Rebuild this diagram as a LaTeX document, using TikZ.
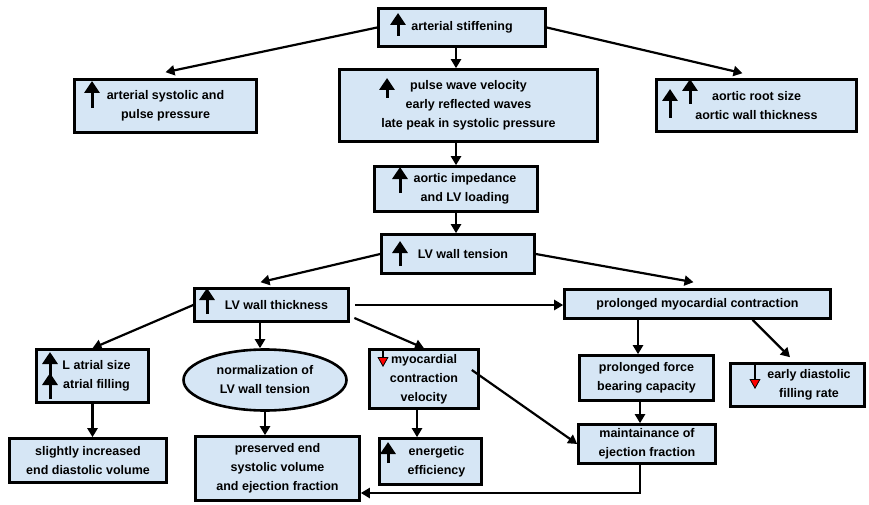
\documentclass[tikz,border=0pt]{standalone}
\usepackage{fontspec}
\setmainfont{Liberation Sans}
\usepackage{xcolor}
\usepackage{tikz}
\usetikzlibrary{arrows.meta,shapes.geometric}
\definecolor{boxblue}{RGB}{214,230,245}

\begin{document}
\begin{tikzpicture}[x=1pt, y=-1pt,
    every node/.style={font=\bfseries\fontsize{12.5}{19}\selectfont, align=center, inner sep=0pt},
    box/.style={draw, line width=2.6pt, fill=boxblue},
    arr/.style={line width=2.2pt, -{Triangle[length=9pt,width=10pt]}},
    upar/.style={line width=3pt, -{Triangle[length=12pt,width=15pt]}},
    dnar/.style={line width=1.8pt, -{Triangle[length=10pt,width=11pt,fill=red,line width=0.8pt]}}]
    \useasboundingbox (0,0) rectangle (869,505);
    % Boxes, top row
    \node[box, minimum width=167pt, minimum height=38pt] (stiff) at (462,27.5) {arterial stiffening};
    \node[box, minimum width=182pt, minimum height=53pt] (syst) at (165.5,106) {arterial systolic and\\pulse pressure};
    \node[box, minimum width=258pt, minimum height=72pt] (pwv) at (468.5,105.5) {pulse wave velocity\\early reflected waves\\late peak in systolic pressure};
    \node[box, minimum width=200pt, minimum height=52pt] (root) at (756.5,105.5) {aortic root size\\aortic wall thickness};
    % Boxes, middle column
    \node[box, minimum width=163pt, minimum height=45pt] (imp) at (456,189) {\hspace*{18pt}aortic impedance\\\hspace*{18pt}and LV loading};
    \node[box, minimum width=153pt, minimum height=39pt] (tens) at (458,254) {\hspace*{10pt}LV wall tension};
    \node[box, minimum width=154pt, minimum height=33pt] (thick) at (271.5,305) {\hspace*{10pt}LV wall thickness};
    \node[box, minimum width=266pt, minimum height=29pt] (prol) at (697.5,304) {prolonged myocardial contraction};
    % Boxes, lower rows
    \node[box, minimum width=112pt, minimum height=53pt] (atr) at (92.5,376) {\hspace*{8pt}L atrial size\\\hspace*{8pt}atrial filling};
    \node[box, ellipse, minimum width=163pt, minimum height=61pt] (norm) at (265,380) {normalization of\\LV wall tension};
    \node[box, minimum width=109pt, minimum height=59pt] (myo) at (424,379) {myocardial\\contraction\\velocity};
    \node[box, minimum width=134pt, minimum height=45pt] (force) at (646.5,378) {prolonged force\\bearing capacity};
    \node[box, minimum width=134pt, minimum height=43pt] (edfr) at (797.5,385) {\hspace*{23pt}early diastolic\\\hspace*{23pt}filling rate};
    \node[box, minimum width=157pt, minimum height=44pt] (slight) at (88,460.5) {slightly increased\\end diastolic volume};
    \node[box, minimum width=164pt, minimum height=64pt] (pres) at (277.5,468.5) {preserved end\\systolic volume\\and ejection fraction};
    \node[box, minimum width=102pt, minimum height=46pt] (ener) at (430.5,461.5) {\hspace*{12pt}energetic\\\hspace*{12pt}efficiency};
    \node[box, minimum width=137pt, minimum height=39pt] (maint) at (647,444) {maintainance of\\ejection fraction};
    % Increase / decrease marks
    \draw[upar] (398,36) -- (398,13);
    \draw[upar] (92,108) -- (92,81);
    \draw[upar] (387,98) -- (387,78);
    \draw[upar] (670,118) -- (670,89);
    \draw[upar] (690,104) -- (690,79);
    \draw[upar] (400,193) -- (400,167);
    \draw[upar] (400,266) -- (400,241);
    \draw[upar] (207,314) -- (207,288);
    \draw[upar] (50,378) -- (50,352);
    \draw[upar] (50,399) -- (50,373);
    \draw[upar] (388,463) -- (388,442);
    \draw[dnar] (383,350) -- (383,367);
    \draw[dnar] (755,364) -- (755,389);
    % Arrows from arterial stiffening
    \draw[arr] (stiff.west) -- ([yshift=6pt]syst.north);
    \draw[arr] (stiff.east) -- ([xshift=-14pt,yshift=5pt]root.north);
    \draw[arr] (imp.north |- stiff.south) -- (imp.north |- pwv.north);
    % Down the middle column
    \draw[arr] (imp.north |- pwv.south) -- (imp.north);
    \draw[arr] (imp.south) -- (imp.south |- tens.north);
    \draw[arr] (tens.west) -- ([xshift=-11pt,yshift=5pt]thick.north);
    \draw[arr] (tens.east) -- ([xshift=-4pt,yshift=6pt]prol.north);
    % From LV wall thickness
    \draw[arr, shorten <=5pt] (thick.east) -- (thick.east -| prol.west);
    \draw[arr] (thick.west) -- (atr.north);
    \draw[arr] ([xshift=-11.5pt]thick.south) -- ([xshift=-11.5pt]thick.south |- norm.north);
    \draw[arr, shorten <=5pt] ([yshift=-11pt]thick.east) -- (myo.north);
    \draw[arr] (atr.south) -- (atr.south |- slight.north);
    \draw[arr] (norm.south) -- (norm.south |- pres.north);
    \draw[arr] ([xshift=-7pt]myo.south) -- ([xshift=-7pt]myo.south |- ener.north);
    \draw[arr] ([xshift=-8pt,yshift=9pt]myo.east) -- (maint.west);
    % From prolonged myocardial contraction
    \draw[arr] ([xshift=-59.5pt]prol.south) -- ([xshift=-59.5pt]prol.south |- force.north);
    \draw[arr] ([xshift=55pt]prol.south) -- ([xshift=-7.5pt,yshift=5pt]edfr.north);
    \draw[arr] ([xshift=-6.5pt]force.south) -- ([xshift=-6.5pt]force.south |- maint.north);
    \draw[arr] ([xshift=-7pt]maint.south) |- ([yshift=-24.5pt]pres.east);
\end{tikzpicture}
\end{document}
